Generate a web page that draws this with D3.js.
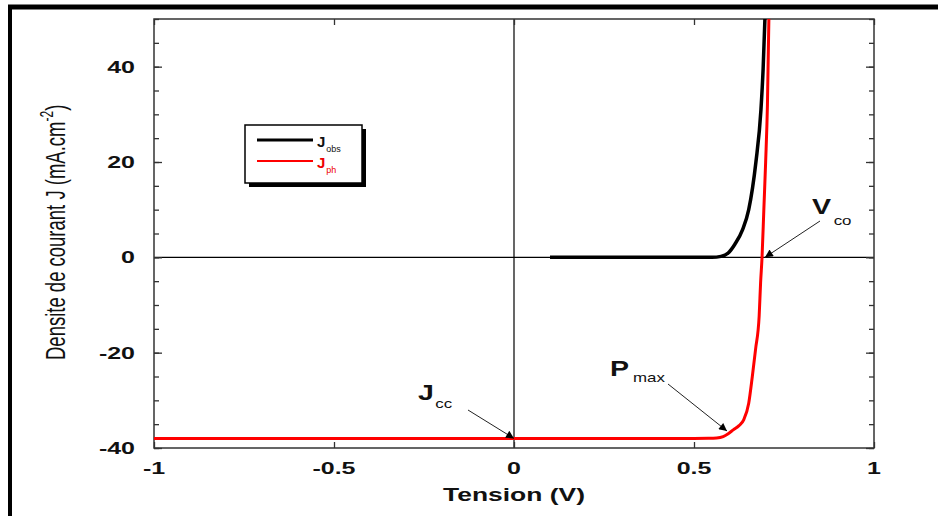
<!DOCTYPE html>
<html><head><meta charset="utf-8">
<script src="https://cdn.jsdelivr.net/npm/d3@7"></script>
<style>
html,body{margin:0;padding:0;background:#fff;}
svg{display:block;font-family:"Liberation Sans",Arial,sans-serif;}
</style></head>
<body>
<svg id="c" width="938" height="516"></svg>
<script>
// ---- data ----
const obsVoltage = [0.1, 0.2, 0.3, 0.4, 0.5, 0.55, 0.575, 0.595, 0.614, 0.635, 0.652, 0.672, 0.686, 0.692, 0.697];
const obsCurrent = [0, 0, 0, 0, 0, 0, 0.2, 0.9, 2.8, 5.8, 10, 20, 31, 39.5, 50];
const phVoltage = [-1, -0.5, 0, 0.3, 0.5, 0.54, 0.563, 0.581, 0.595, 0.609, 0.625, 0.638, 0.652, 0.662, 0.671, 0.681, 0.685, 0.689, 0.694, 0.699, 0.704, 0.708];
const phCurrent = [-38, -38, -38, -38, -38, -37.97, -37.9, -37.6, -37.0, -36.2, -35.3, -34.1, -30.6, -25, -19.3, -12.3, -5.3, 0, 10, 20, 32, 50];
const xTicks = [-1, -0.5, 0, 0.5, 1];
const xTickLabels = ["-1", "-0.5", "0", "0.5", "1"];
const yTicks = [-40, -20, 0, 20, 40];
const yTickLabels = ["-40", "-20", "0", "20", "40"];
const yMinorTicks = d3.range(-40, 51, 5);
const seriesNames = ["obs", "ph"];
const seriesColors = ["#000000", "#ff0000"];

const svg = d3.select("#c");
const L = 154, R = 874, T = 19, B = 448;
const SX = 1.47; // horizontal text stretch
const x = d3.scaleLinear().domain([-1, 1]).range([L, R]);
const y = d3.scaleLinear().domain([-40, 50]).range([B, T]);

// outer frame
svg.append("line").attr("x1", 8).attr("x2", 938).attr("y1", 7).attr("y2", 7).attr("stroke", "#000").attr("stroke-width", 5);
svg.append("line").attr("x1", 10).attr("x2", 10).attr("y1", 5).attr("y2", 516).attr("stroke", "#000").attr("stroke-width", 4);

// clip
svg.append("clipPath").attr("id", "clip").append("rect").attr("x", L).attr("y", T).attr("width", R - L).attr("height", B - T);

// zero lines
svg.append("line").attr("x1", L).attr("x2", R).attr("y1", y(0)).attr("y2", y(0)).attr("stroke", "#000").attr("stroke-width", 1.2);
svg.append("line").attr("x1", x(0)).attr("x2", x(0)).attr("y1", T).attr("y2", B).attr("stroke", "#000").attr("stroke-width", 1.2);

// axes (inward ticks)
const axStroke = "#333";
function styleAxis(g) {
  g.select(".domain").remove();
  g.selectAll("line").attr("stroke", axStroke).attr("stroke-width", 1.3);
  g.selectAll("text").remove();
}
svg.append("g").attr("transform", `translate(${L},0)`).call(d3.axisLeft(y).tickValues(yMinorTicks).tickSizeInner(-5).tickSizeOuter(0)).call(styleAxis);
svg.append("g").attr("transform", `translate(${L},0)`).call(d3.axisLeft(y).tickValues(yTicks).tickSizeInner(-8).tickSizeOuter(0)).call(styleAxis);
svg.append("g").attr("transform", `translate(${R},0)`).call(d3.axisRight(y).tickValues(yMinorTicks).tickSizeInner(-5).tickSizeOuter(0)).call(styleAxis);
svg.append("g").attr("transform", `translate(${R},0)`).call(d3.axisRight(y).tickValues(yTicks).tickSizeInner(-8).tickSizeOuter(0)).call(styleAxis);
svg.append("g").attr("transform", `translate(0,${B})`).call(d3.axisBottom(x).tickValues(xTicks).tickSizeInner(-6).tickSizeOuter(0)).call(styleAxis);
svg.append("g").attr("transform", `translate(0,${T})`).call(d3.axisTop(x).tickValues(xTicks).tickSizeInner(-6).tickSizeOuter(0)).call(styleAxis);
svg.append("rect").attr("x", L).attr("y", T).attr("width", R - L).attr("height", B - T).attr("fill", "none").attr("stroke", axStroke).attr("stroke-width", 1.5);

// tick labels
xTicks.forEach((v, i) => {
  svg.append("text").attr("transform", `translate(${x(v)},${B + 26}) scale(${SX},1)`)
    .attr("text-anchor", "middle").attr("font-size", 17).attr("font-weight", "bold").attr("fill", "#111").text(xTickLabels[i]);
});
yTicks.forEach((v, i) => {
  svg.append("text").attr("transform", `translate(${L - 19},${y(v) + 6}) scale(${SX},1)`)
    .attr("text-anchor", "end").attr("font-size", 17).attr("font-weight", "bold").attr("fill", "#111").text(yTickLabels[i]);
});

// axis titles
svg.append("text").attr("transform", `translate(${x(0)},${501}) scale(${SX},1)`)
  .attr("text-anchor", "middle").attr("font-size", 18).attr("font-weight", "bold").attr("fill", "#111").text("Tension (V)");
const yt = svg.append("text").attr("transform", `translate(65,360) scale(${SX},1) rotate(-90)`)
  .attr("text-anchor", "start").attr("font-size", 18.5).attr("fill", "#111");
yt.append("tspan").text("Densite de courant J (mA.cm");
yt.append("tspan").attr("dy", -8).attr("font-size", 12).text("-2");
yt.append("tspan").attr("dy", 8).text(")");

// curves
const line = d3.line().x(d => x(d[0])).y(d => y(d[1])).curve(d3.curveMonotoneX);
const plot = svg.append("g").attr("clip-path", "url(#clip)");
plot.append("path").datum(obsVoltage.map((v, i) => [v, obsCurrent[i]]))
  .attr("d", line).attr("fill", "none").attr("stroke", seriesColors[0]).attr("stroke-width", 3.5);
plot.append("path").datum(phVoltage.map((v, i) => [v, phCurrent[i]]))
  .attr("d", line).attr("fill", "none").attr("stroke", seriesColors[1]).attr("stroke-width", 3);

// annotations
svg.append("defs").append("marker").attr("id", "arr").attr("viewBox", "0 0 10 10").attr("refX", 10).attr("refY", 5)
  .attr("markerWidth", 10).attr("markerHeight", 8).attr("markerUnits", "userSpaceOnUse").attr("orient", "auto")
  .append("path").attr("d", "M0,0 L10,5 L0,10 z").attr("fill", "#000");
function annot(x1, y1, x2, y2) {
  svg.append("line").attr("x1", x1).attr("y1", y1).attr("x2", x2).attr("y2", y2)
    .attr("stroke", "#222").attr("stroke-width", 1).attr("marker-end", "url(#arr)");
}
annot(468, 410, x(0), y(-38));
annot(668, 384, 727, 431);
annot(820, 221, 765, y(0));
function label(tx, ty, big, sub, subdx, subdy) {
  const t = svg.append("text").attr("transform", `translate(${tx},${ty}) scale(1.3,1)`).attr("fill", "#111");
  t.append("tspan").attr("font-size", 22).attr("font-weight", "bold").text(big);
  t.append("tspan").attr("font-size", 13).attr("dx", subdx).attr("dy", subdy).text(sub);
}
label(418, 400, "J", "cc", 1, 8);
label(610, 376, "P", "max", 3, 6);
label(812, 214, "V", "co", 2, 11);

// legend
svg.append("rect").attr("x", 249).attr("y", 129).attr("width", 117).attr("height", 58).attr("fill", "#000");
svg.append("rect").attr("x", 245).attr("y", 125).attr("width", 117).attr("height", 58).attr("fill", "#fff").attr("stroke", "#000").attr("stroke-width", 1.5);
const legY = [140, 161];
seriesNames.forEach((n, i) => {
  svg.append("line").attr("x1", 257).attr("x2", 313).attr("y1", legY[i]).attr("y2", legY[i])
    .attr("stroke", seriesColors[i]).attr("stroke-width", i === 0 ? 3 : 2);
  const t = svg.append("text").attr("x", 317).attr("y", legY[i] + 7).attr("fill", i === 0 ? "#111" : "#e00");
  t.append("tspan").attr("font-size", 15).attr("font-weight", "bold").text("J");
  t.append("tspan").attr("font-size", 9).attr("dx", 1).attr("dy", 5).text(n);
});
</script>
</body></html>
